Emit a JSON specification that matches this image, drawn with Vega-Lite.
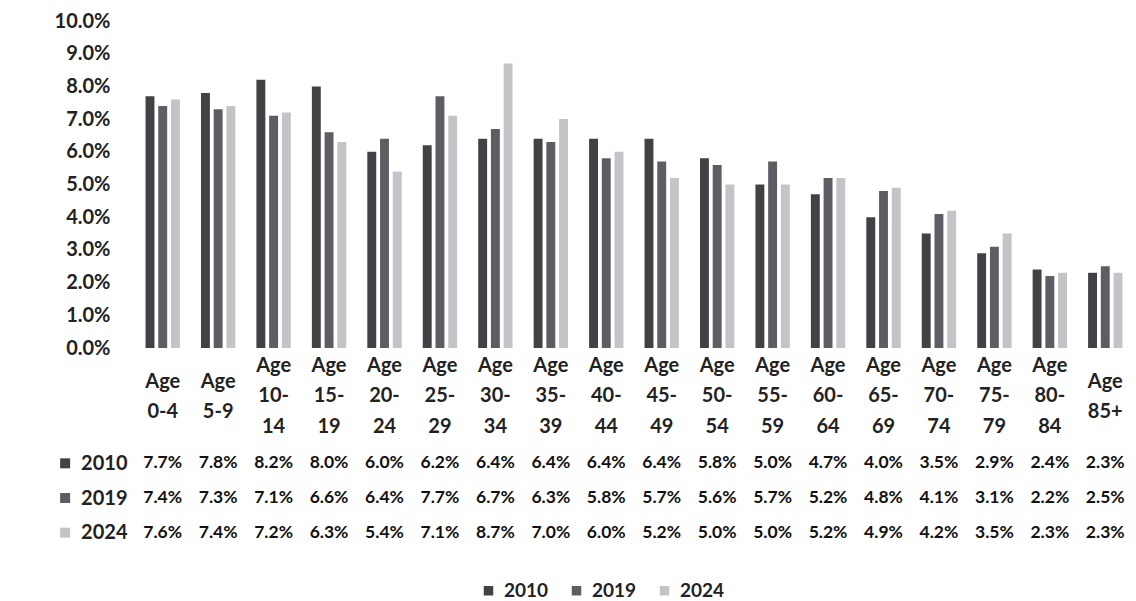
{
  "$schema": "https://vega.github.io/schema/vega-lite/v6.json",
  "padding": {"left": 54, "top": 11, "right": 0, "bottom": 0},
  "background": "white",
  "spacing": 98,
  "bounds": "flush",
  "datasets": {
    "d": [
      {"age":"Age 0-4","year":"2010","value":0.077},{"age":"Age 5-9","year":"2010","value":0.078},{"age":"Age 10-14","year":"2010","value":0.082},{"age":"Age 15-19","year":"2010","value":0.080},{"age":"Age 20-24","year":"2010","value":0.060},{"age":"Age 25-29","year":"2010","value":0.062},{"age":"Age 30-34","year":"2010","value":0.064},{"age":"Age 35-39","year":"2010","value":0.064},{"age":"Age 40-44","year":"2010","value":0.064},{"age":"Age 45-49","year":"2010","value":0.064},{"age":"Age 50-54","year":"2010","value":0.058},{"age":"Age 55-59","year":"2010","value":0.050},{"age":"Age 60-64","year":"2010","value":0.047},{"age":"Age 65-69","year":"2010","value":0.040},{"age":"Age 70-74","year":"2010","value":0.035},{"age":"Age 75-79","year":"2010","value":0.029},{"age":"Age 80-84","year":"2010","value":0.024},{"age":"Age 85+","year":"2010","value":0.023},
      {"age":"Age 0-4","year":"2019","value":0.074},{"age":"Age 5-9","year":"2019","value":0.073},{"age":"Age 10-14","year":"2019","value":0.071},{"age":"Age 15-19","year":"2019","value":0.066},{"age":"Age 20-24","year":"2019","value":0.064},{"age":"Age 25-29","year":"2019","value":0.077},{"age":"Age 30-34","year":"2019","value":0.067},{"age":"Age 35-39","year":"2019","value":0.063},{"age":"Age 40-44","year":"2019","value":0.058},{"age":"Age 45-49","year":"2019","value":0.057},{"age":"Age 50-54","year":"2019","value":0.056},{"age":"Age 55-59","year":"2019","value":0.057},{"age":"Age 60-64","year":"2019","value":0.052},{"age":"Age 65-69","year":"2019","value":0.048},{"age":"Age 70-74","year":"2019","value":0.041},{"age":"Age 75-79","year":"2019","value":0.031},{"age":"Age 80-84","year":"2019","value":0.022},{"age":"Age 85+","year":"2019","value":0.025},
      {"age":"Age 0-4","year":"2024","value":0.076},{"age":"Age 5-9","year":"2024","value":0.074},{"age":"Age 10-14","year":"2024","value":0.072},{"age":"Age 15-19","year":"2024","value":0.063},{"age":"Age 20-24","year":"2024","value":0.054},{"age":"Age 25-29","year":"2024","value":0.071},{"age":"Age 30-34","year":"2024","value":0.087},{"age":"Age 35-39","year":"2024","value":0.070},{"age":"Age 40-44","year":"2024","value":0.060},{"age":"Age 45-49","year":"2024","value":0.052},{"age":"Age 50-54","year":"2024","value":0.050},{"age":"Age 55-59","year":"2024","value":0.050},{"age":"Age 60-64","year":"2024","value":0.052},{"age":"Age 65-69","year":"2024","value":0.049},{"age":"Age 70-74","year":"2024","value":0.042},{"age":"Age 75-79","year":"2024","value":0.035},{"age":"Age 80-84","year":"2024","value":0.023},{"age":"Age 85+","year":"2024","value":0.023}
    ],
    "years": [{"year":"2010"},{"year":"2019"},{"year":"2024"}]
  },
  "vconcat": [
    {
      "width": 998,
      "height": 327,
      "data": {"name": "d"},
      "mark": {"type": "bar"},
      "encoding": {
        "x": {
          "field": "age", "type": "nominal", "sort": null,
          "scale": {"paddingInner": 0.38, "paddingOuter": 0.19},
          "axis": {
            "title": null, "domain": false, "ticks": false, "tickSize": 0,
            "labelAngle": 0, "labelOverlap": false, "labelLimit": 0,
            "labelFont": "Lato", "labelFontWeight": "bold", "labelFontSize": 20, "labelColor": "#222222",
            "labelBaseline": "middle", "labelLineHeight": 30.5,
            "labelPadding": {"condition": {"test": "length(datum.value) > 7", "value": 17}, "value": 33},
            "labelExpr": "length(datum.label) > 7 ? ['Age', slice(datum.label, 4, indexof(datum.label, '-') + 1), slice(datum.label, indexof(datum.label, '-') + 1)] : ['Age', slice(datum.label, 4)]"
          }
        },
        "xOffset": {"field": "year", "type": "nominal", "scale": {"paddingInner": 0.3, "paddingOuter": 0}},
        "y": {
          "field": "value", "type": "quantitative",
          "scale": {"domain": [0, 0.1], "nice": false},
          "axis": {
            "title": null, "domain": false, "ticks": false, "tickSize": 0, "grid": false,
            "values": [0, 0.01, 0.02, 0.03, 0.04, 0.05, 0.06, 0.07, 0.08, 0.09, 0.1],
            "format": ".1%", "labelFont": "Lato", "labelFontWeight": "bold", "labelFontSize": 20,
            "labelColor": "#222222", "labelPadding": 25
          }
        },
        "color": {
          "field": "year", "type": "nominal",
          "scale": {"domain": ["2010", "2019", "2024"], "range": ["#434146", "#5e5d63", "#c4c4c8"]},
          "legend": {
            "title": null, "orient": "none", "legendX": 344, "legendY": 560, "direction": "horizontal",
            "symbolType": "square", "symbolSize": 90, "symbolStrokeWidth": 0,
            "labelFont": "Lato", "labelFontWeight": "bold", "labelFontSize": 19, "labelColor": "#222222",
            "columnPadding": 18, "labelOffset": 6
          }
        }
      }
    },
    {
      "width": 998,
      "height": 104,
      "layer": [
        {
          "data": {"name": "d"},
          "mark": {"type": "text", "font": "Lato", "fontWeight": "bold", "fontSize": 17.5, "color": "#111111"},
          "encoding": {
            "x": {"field": "age", "type": "nominal", "sort": null, "scale": {"paddingInner": 0.38, "paddingOuter": 0.19}, "axis": null},
            "y": {
              "field": "year", "type": "nominal", "sort": ["2010", "2019", "2024"],
              "scale": {"paddingInner": 0, "paddingOuter": 0},
              "axis": {
                "title": null, "domain": false, "ticks": false, "tickSize": 0,
                "labelFont": "Lato", "labelFontWeight": "bold", "labelFontSize": 20, "labelColor": "#222222",
                "labelPadding": 8
              }
            },
            "text": {"field": "value", "type": "quantitative", "format": ".1%"}
          }
        },
        {
          "data": {"name": "years"},
          "mark": {"type": "point", "shape": "square", "filled": true, "size": 100, "opacity": 1, "clip": false},
          "encoding": {
            "x": {"datum": -0.07, "type": "quantitative", "scale": {"domain": [0, 1]}, "axis": null},
            "y": {"field": "year", "type": "nominal", "sort": ["2010", "2019", "2024"], "scale": {"paddingInner": 0, "paddingOuter": 0}},
            "color": {"field": "year", "type": "nominal"}
          }
        }
      ],
      "resolve": {"scale": {"x": "independent"}}
    }
  ],
  "config": {"view": {"stroke": null}}
}
